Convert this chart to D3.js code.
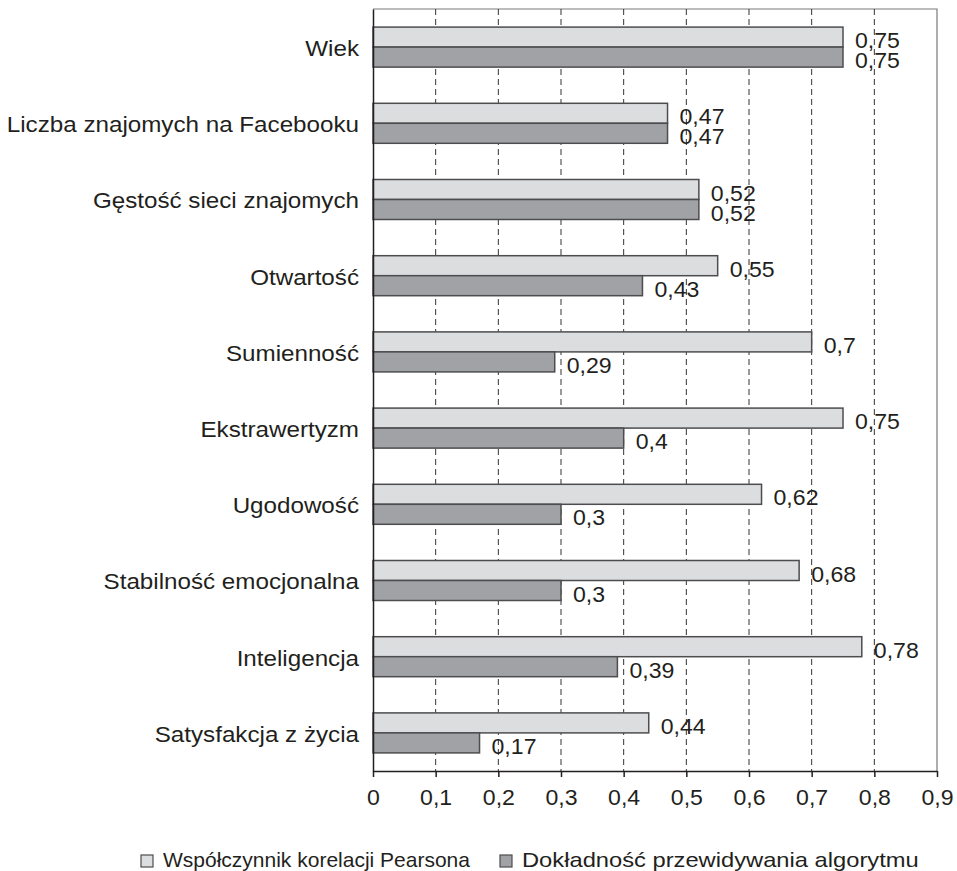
<!DOCTYPE html>
<html>
<head>
<meta charset="utf-8">
<script src="https://cdn.jsdelivr.net/npm/d3@7"></script>
<style>
  body { margin: 0; background: #fff; }
  svg text { font-family: "Liberation Sans", Arial, sans-serif; fill: #231f20; }
</style>
</head>
<body>
<svg id="visframe"></svg>
<script>
var categories = ["Wiek", "Liczba znajomych na Facebooku", "Gęstość sieci znajomych", "Otwartość",
    "Sumienność", "Ekstrawertyzm", "Ugodowość", "Stabilność emocjonalna", "Inteligencja", "Satysfakcja z życia"];
var pearson = [0.75, 0.47, 0.52, 0.55, 0.7, 0.75, 0.62, 0.68, 0.78, 0.44];
var accuracy = [0.75, 0.47, 0.52, 0.43, 0.29, 0.4, 0.3, 0.3, 0.39, 0.17];
var seriesNames = ["Współczynnik korelacji Pearsona", "Dokładność przewidywania algorytmu"];
var xTicks = [0, 0.1, 0.2, 0.3, 0.4, 0.5, 0.6, 0.7, 0.8, 0.9];

var W = 957, H = 871;
var margins = { top: 9, bottom: 100, left: 373, right: 20 };
var fillColors = ["#dcdddf", "#a1a2a5"];
var fontSize = 22;

function comma(v) { return String(v).replace(".", ","); }

// widen text horizontally around its anchor point (source type is wider than Liberation Sans)
function stretch(sel, k) {
    sel.each(function() {
        var t = d3.select(this);
        var x = +t.attr("x") || 0, y = +t.attr("y") || 0;
        t.attr("x", 0).attr("y", 0)
            .attr("transform", "translate(" + x + "," + y + ") scale(" + k + ",1)");
    });
}

var svg = d3.select("#visframe").attr("width", W).attr("height", H);

var pw = W - margins.left - margins.right;
var ph = H - margins.top - margins.bottom;

var xScale = d3.scaleLinear().domain([0, 0.9]).range([0, pw]);
var yScale = d3.scaleBand().domain(categories).range([0, ph])
    .paddingInner(0.475).paddingOuter(0.2375);
var subScale = d3.scaleBand().domain([0, 1]).range([0, yScale.bandwidth()]);

var plot = svg.append("g").attr("transform", "translate(" + margins.left + "," + margins.top + ")");

// frame (top and right)
plot.append("path")
    .attr("d", "M0,0H" + pw + "V" + ph)
    .attr("fill", "none").attr("stroke", "#7a7a7a").attr("stroke-width", 1.2);

// dashed grid
plot.selectAll(".grid").data(xTicks.slice(1, -1)).enter().append("line")
    .attr("class", "grid")
    .attr("x1", d => xScale(d)).attr("x2", d => xScale(d))
    .attr("y1", 0).attr("y2", ph)
    .attr("stroke", "#333").attr("stroke-width", 1)
    .attr("stroke-dasharray", "6,4");

var rows = categories.map(function(c, i) { return { cat: c, vals: [pearson[i], accuracy[i]] }; });

var groups = plot.selectAll(".barGroup").data(rows).enter().append("g")
    .attr("class", "barGroup")
    .attr("transform", d => "translate(0," + yScale(d.cat) + ")");

groups.selectAll("rect").data(d => d.vals).enter().append("rect")
    .attr("x", 0)
    .attr("y", (d, i) => subScale(i))
    .attr("width", d => xScale(d))
    .attr("height", subScale.bandwidth())
    .attr("fill", (d, i) => fillColors[i])
    .attr("stroke", "#4d4d4f").attr("stroke-width", 1.5);

var vals = groups.selectAll(".val").data(d => d.vals).enter().append("text")
    .attr("class", "val")
    .attr("x", d => xScale(d) + 12)
    .attr("y", (d, i) => subScale(i) + subScale.bandwidth() + 1)
    .attr("font-size", fontSize)
    .text(d => comma(d));
stretch(vals, 1.05);

// y axis (category labels)
var yAxis = plot.append("g").call(d3.axisLeft(yScale).tickSize(0).tickPadding(14));
yAxis.select(".domain").attr("stroke", "#231f20").attr("stroke-width", 1.5);
yAxis.selectAll("text").attr("font-size", fontSize).attr("font-family", null).attr("dy", "0.4em");
stretch(yAxis.selectAll("text"), 1.1);

// x axis
var xAxis = plot.append("g").attr("transform", "translate(0," + ph + ")")
    .call(d3.axisBottom(xScale).tickValues(xTicks).tickFormat(comma).tickSize(6).tickPadding(12).tickSizeOuter(0));
xAxis.select(".domain").attr("stroke", "#231f20").attr("stroke-width", 1.5);
xAxis.selectAll(".tick line").attr("stroke", "#231f20").attr("stroke-width", 1.5);
xAxis.selectAll("text").attr("font-size", fontSize).attr("font-family", null);
stretch(xAxis.selectAll("text"), 1.05);

// legend
var legendX = [141, 500];
var legendWide = [1.0, 1.13];
var legendY = 855;
var legend = svg.selectAll(".legItem").data(seriesNames).enter().append("g")
    .attr("class", "legItem")
    .attr("transform", (d, i) => "translate(" + legendX[i] + "," + legendY + ")");
legend.append("rect")
    .attr("width", 12).attr("height", 12)
    .attr("fill", (d, i) => fillColors[i])
    .attr("stroke", "#4d4d4f").attr("stroke-width", 1.2);
legend.append("text")
    .attr("x", 22).attr("y", 12)
    .attr("font-size", 21)
    .text(d => d)
    .each(function(d, i) { stretch(d3.select(this), legendWide[i]); });
</script>
</body>
</html>
